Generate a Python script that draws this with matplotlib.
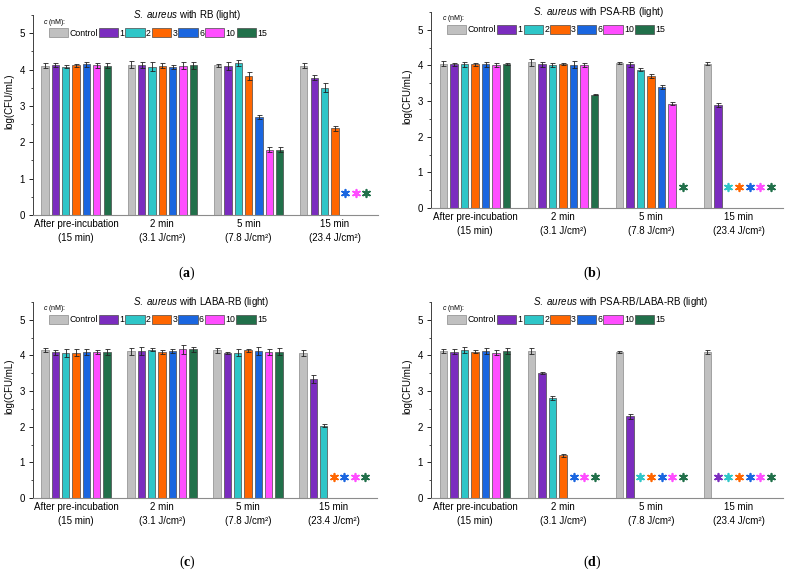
import numpy as np
import matplotlib.pyplot as plt
from matplotlib.ticker import MultipleLocator

plt.rcParams['font.family'] = 'Liberation Sans'
plt.rcParams['mathtext.fontset'] = 'custom'
plt.rcParams['mathtext.rm'] = 'Liberation Sans'
plt.rcParams['mathtext.it'] = 'Liberation Sans:italic'
plt.rcParams['mathtext.bf'] = 'Liberation Serif:bold'

series = ['Control', '1', '2', '3', '6', '10', '15']
colors = ['#c0c0c0', '#7b2cbf', '#2ec6c8', '#ff6600', '#1a66e0', '#ff4dff', '#21704a']
groups = ['After pre-incubation\n(15 min)', '2 min\n(3.1 J/cm²)',
          '5 min\n(7.8 J/cm²)', '15 min\n(23.4 J/cm²)']

nan = np.nan
# rows = time points, columns = concentration; nan -> no survivors (asterisk)
rb_mean = [[4.10, 4.13, 4.08, 4.12, 4.14, 4.12, 4.11],
           [4.13, 4.12, 4.08, 4.10, 4.07, 4.11, 4.12],
           [4.12, 4.10, 4.19, 3.82, 2.70, 1.80, 1.80],
           [4.10, 3.78, 3.50, 2.39, nan, nan, nan]]
rb_err = [[0.07, 0.05, 0.05, 0.04, 0.07, 0.07, 0.07],
          [0.10, 0.09, 0.13, 0.07, 0.06, 0.09, 0.10],
          [0.04, 0.10, 0.08, 0.12, 0.05, 0.08, 0.06],
          [0.07, 0.06, 0.13, 0.07, nan, nan, nan]]

psa_mean = [[4.05, 4.03, 4.03, 4.03, 4.03, 4.02, 4.03],
            [4.09, 4.03, 4.02, 4.04, 4.02, 4.02, 3.18],
            [4.06, 4.03, 3.88, 3.70, 3.40, 2.93, nan],
            [4.05, 2.90, nan, nan, nan, nan, nan]]
psa_err = [[0.07, 0.05, 0.08, 0.04, 0.08, 0.05, 0.03],
           [0.10, 0.08, 0.06, 0.02, 0.10, 0.05, 0.02],
           [0.03, 0.07, 0.04, 0.06, 0.05, 0.05, nan],
           [0.05, 0.06, nan, nan, nan, nan, nan]]

laba_mean = [[4.16, 4.09, 4.07, 4.08, 4.10, 4.10, 4.10],
             [4.12, 4.13, 4.16, 4.10, 4.12, 4.17, 4.17],
             [4.14, 4.08, 4.08, 4.14, 4.13, 4.09, 4.11],
             [4.07, 3.34, 2.03, nan, nan, nan, nan]]
laba_err = [[0.05, 0.07, 0.12, 0.10, 0.08, 0.06, 0.08],
            [0.10, 0.12, 0.04, 0.06, 0.05, 0.12, 0.06],
            [0.06, 0.03, 0.10, 0.04, 0.12, 0.08, 0.10],
            [0.08, 0.10, 0.05, nan, nan, nan, nan]]

mix_mean = [[4.12, 4.11, 4.15, 4.11, 4.12, 4.08, 4.13],
            [4.12, 3.50, 2.80, 1.20, nan, nan, nan],
            [4.10, 2.30, nan, nan, nan, nan, nan],
            [4.10, nan, nan, nan, nan, nan, nan]]
mix_err = [[0.05, 0.06, 0.08, 0.04, 0.08, 0.06, 0.08],
           [0.08, 0.03, 0.05, 0.04, nan, nan, nan],
           [0.03, 0.07, nan, nan, nan, nan, nan],
           [0.05, nan, nan, nan, nan, nan, nan]]

W, H = 785, 575
fig = plt.figure(figsize=(7.85, 5.75), dpi=100)

# name, means, errors, axes box in pixels (left, right, top, bottom), tag, tag position
panels = [
    ('RB', rb_mean, rb_err, (33, 378, 15, 215), 'a', (187, 273)),
    ('PSA-RB', psa_mean, psa_err, (431, 783, 12, 208), 'b', (592, 273)),
    ('LABA-RB', laba_mean, laba_err, (33, 377, 302, 498), 'c', (187, 562)),
    ('PSA-RB/LABA-RB', mix_mean, mix_err, (431, 783, 302, 498), 'd', (592, 562)),
]

bw = 0.085
step = 0.12
for name, mean, err, (x0, x1, yt, yb), tag, (lx, ly) in panels:
    ax = fig.add_axes([x0 / W, 1 - yb / H, (x1 - x0) / W, (yb - yt) / H])
    mean = np.array(mean)
    err = np.array(err)
    xg = np.arange(len(groups))
    for j, lab in enumerate(series):
        xs = xg + (j - 3) * step
        ok = ~np.isnan(mean[:, j])
        edge = '#8a8a8a' if j == 0 else '#4a4a4a'
        ax.bar(xs[ok], mean[ok, j], bw, yerr=err[ok, j], color=colors[j],
               edgecolor=edge, linewidth=0.5, label=lab,
               error_kw=dict(elinewidth=0.6, capsize=1.8, capthick=0.6, ecolor='#222222'))
        miss = ~ok
        if miss.any():
            ax.scatter(xs[miss], np.full(miss.sum(), 0.6), marker=(6, 2, 0),
                       s=30, linewidths=1.25, color=colors[j], zorder=3)
    ax.set_xlim(-0.5, 3.5)
    ax.set_ylim(0, 5.5)
    ax.set_yticks(range(6))
    ax.yaxis.set_minor_locator(MultipleLocator(0.5))
    ax.set_xticks(xg)
    ax.set_xticklabels(groups, linespacing=1.45)
    ax.tick_params(axis='x', which='both', length=0, pad=3, labelsize=7)
    ax.tick_params(axis='y', length=2.9, width=0.6, labelsize=7, pad=2.9)
    ax.tick_params(axis='y', which='minor', length=1.5, width=0.5)
    for s in ('top', 'right'):
        ax.spines[s].set_visible(False)
    ax.spines['left'].set_color('#404040')
    ax.spines['left'].set_linewidth(0.7)
    ax.spines['bottom'].set_color('#8c8c8c')
    ax.spines['bottom'].set_linewidth(0.8)
    ax.set_ylabel('log(CFU/mL)', fontsize=7)
    ax.yaxis.set_label_coords(-19 / (x1 - x0), 0.57)

    ax.text(0.29, 1.0, r'$\it{S.\ aureus}$ with ' + name + ' (light)', transform=ax.transAxes,
            fontsize=7, ha='left', va='center')
    ax.text(0.03, 0.965, r'$\it{c}$ (nM):', transform=ax.transAxes, fontsize=5,
            ha='left', va='center')
    ax.legend(loc='center left', bbox_to_anchor=(0.046, 0.91), ncol=7, frameon=False,
              fontsize=6.3, handlelength=2.2, handleheight=1.15, handletextpad=0.15,
              columnspacing=0.12, borderpad=0, borderaxespad=0)

    fig.text(lx / W, 1 - ly / H, r'($\mathbf{' + tag + '}$)', fontsize=10,
             family='Liberation Serif', ha='center', va='center')

fig.savefig('out.png', dpi=100)
